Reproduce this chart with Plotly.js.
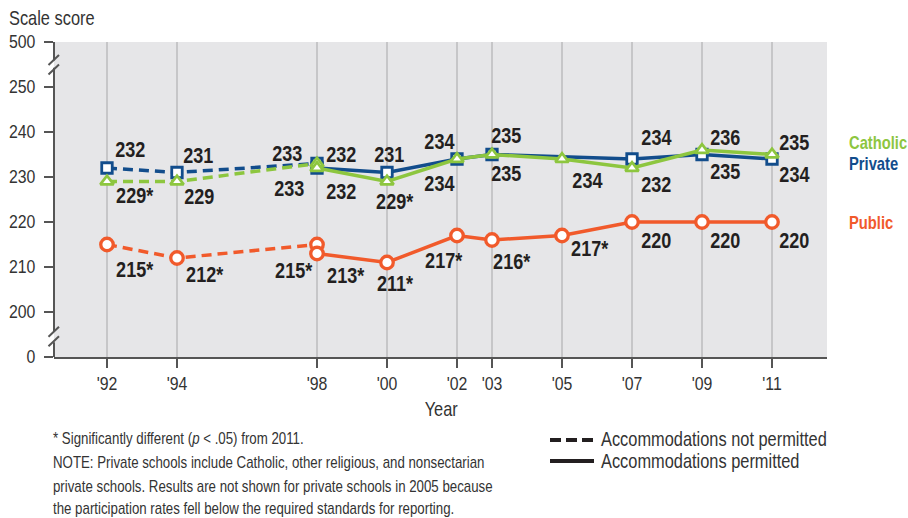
<!DOCTYPE html>
<html>
<head>
<meta charset="utf-8">
<script src="https://cdn.plot.ly/plotly-3.0.1.min.js"></script>
<style>
  html, body { margin: 0; padding: 0; background: #ffffff; }
  #chart { width: 908px; height: 518px; }
</style>
</head>
<body>
<div id="chart"></div>
<script>
// ---------------- DATA ----------------
const yearsNotPermitted = [1992, 1994, 1998];
const yearsPermitted = [1998, 2000, 2002, 2003, 2005, 2007, 2009, 2011];
const tickYears = [1992, 1994, 1998, 2000, 2002, 2003, 2005, 2007, 2009, 2011];
const tickYearLabels = ["'92", "'94", "'98", "'00", "'02", "'03", "'05", "'07", "'09", "'11"];

const publicNotPermitted = [215, 212, 215];
const publicPermitted = [213, 211, 217, 216, 217, 220, 220, 220];
const privateNotPermitted = [232, 231, 233];
const privatePermitted = [232, 231, 234, 235, null, 234, 235, 234];
const catholicNotPermitted = [229, 229, 233];
const catholicPermitted = [232, 229, 234, 235, 234, 232, 236, 235];

const publicNotPermittedSig = [true, true, true];
const publicPermittedSig = [true, true, true, true, true, false, false, false];
const privateNotPermittedSig = [false, false, false];
const privatePermittedSig = [false, false, false, false, false, false, false, false];
const catholicNotPermittedSig = [true, false, false];
const catholicPermittedSig = [false, true, false, false, false, false, false, false];

const scoreTickValues = [0, 200, 210, 220, 230, 240, 250, 500];
const scoreTickLabels = ["0", "200", "210", "220", "230", "240", "250", "500"];

// ---------------- STYLE ----------------
const FONT = "'Liberation Sans', Arial, sans-serif";
const BLUE = '#124d8c';
const GREEN = '#8dc63f';
const ORANGE = '#f15a2b';
const AXIS = '#555555';
const TEXT = '#231f20';

// broken scale: 0 and 500 are drawn one step outside the 200-250 band
function brokenScale(v) {
  if (v === 0) return 190;
  if (v === 500) return 260;
  return v;
}

// label placements (pixel offsets from the point; dy positive = downward)
const placePublicNP = [[28.5, 24.5], [28, 16], [-23, 25.5]];
const placePublicP = [[29, 21.5], [7.5, 21], [-13, 24.5], [19.5, 21.5], [28, 13], [24.5, 18], [23.5, 18], [22.5, 18]];
const placePrivateNP = [[24, -18.3], [22, -17.5], [-30, -10]];
const placePrivateP = [[24, -14], [2, -18.5], [-17.5, -17.3], [14.5, -19.5], null, [24.5, -21.5], [23.5, 17.2], [22.5, 15.2]];
const placeCatholicNP = [[28.5, 13.5], [23, 14.5], [-27.5, 25]];
const placeCatholicP = [[24.5, 23], [7.5, 19.5], [-17.5, 24.3], [14.5, 18.8], [25, 21.8], [24.5, 16], [23.5, -12.5], [22.5, -12]];

// plot-area geometry in pixels
const L = 54, R = 81, T = 42, B = 161, W = 908, H = 518;
const PW = W - L - R, PH = H - T - B;
function px(x) { return (x - L) / PW; }
function py(y) { return (H - B - y) / PH; }

// ---------------- TRACES ----------------
function series(xs, ys, color, symbol, size, lw, dash) {
  return {
    x: xs, y: ys, type: 'scatter', mode: 'lines+markers',
    connectgaps: true, cliponaxis: false, hoverinfo: 'skip', showlegend: false,
    line: { color: color, width: 3.5, dash: dash },
    marker: { symbol: symbol, size: size, color: '#ffffff', line: { color: color, width: lw } }
  };
}

const traces = [
  series(yearsNotPermitted, publicNotPermitted, ORANGE, 'circle', 12.5, 3.3, '10px,6px'),
  series(yearsPermitted, publicPermitted, ORANGE, 'circle', 12.5, 3.3, 'solid'),
  series(yearsNotPermitted, privateNotPermitted, BLUE, 'square', 10.5, 2.8, '10px,6px'),
  series(yearsPermitted, privatePermitted, BLUE, 'square', 10.5, 2.8, 'solid'),
  series(yearsNotPermitted, catholicNotPermitted, GREEN, 'triangle-up', 11.5, 2.8, '10px,6px'),
  series(yearsPermitted, catholicPermitted, GREEN, 'triangle-up', 11.5, 2.8, 'solid')
];

// ---------------- ANNOTATIONS ----------------
const annotations = [];
function addLabels(xs, ys, sig, place) {
  for (let i = 0; i < xs.length; i++) {
    if (ys[i] === null || !place[i]) continue;
    annotations.push({
      x: xs[i], y: ys[i], xref: 'x', yref: 'y',
      text: String(ys[i]) + (sig[i] ? '*' : ''),
      showarrow: false, xanchor: 'center', yanchor: 'middle', align: 'center',
      xshift: place[i][0], yshift: -place[i][1],
      font: { family: FONT, size: 22, color: TEXT, weight: 'bold' }
    });
  }
}
addLabels(yearsNotPermitted, publicNotPermitted, publicNotPermittedSig, placePublicNP);
addLabels(yearsPermitted, publicPermitted, publicPermittedSig, placePublicP);
addLabels(yearsNotPermitted, privateNotPermitted, privateNotPermittedSig, placePrivateNP);
addLabels(yearsPermitted, privatePermitted, privatePermittedSig, placePrivateP);
addLabels(yearsNotPermitted, catholicNotPermitted, catholicNotPermittedSig, placeCatholicNP);
addLabels(yearsPermitted, catholicPermitted, catholicPermittedSig, placeCatholicP);

function textAt(x, y, text, size, color, bold, xanchor) {
  annotations.push({
    x: px(x), y: py(y), xref: 'paper', yref: 'paper', text: text,
    showarrow: false, xanchor: xanchor || 'left', yanchor: 'middle', align: xanchor || 'left',
    borderpad: 0,
    font: { family: FONT, size: size, color: color, weight: bold ? 'bold' : 'normal' }
  });
}
// series names at right
textAt(848, 142.5, 'Catholic', 18, GREEN, true);
textAt(848, 164, 'Private', 18, BLUE, true);
textAt(848, 222.5, 'Public', 18, ORANGE, true);
// axis titles
textAt(8, 18, 'Scale score', 20, '#333333', false);
textAt(441, 409, 'Year', 20, '#333333', false, 'center');
// footnotes
textAt(52, 438, '* Significantly different (<i>p</i> &lt; .05) from 2011.', 16.2, '#333333', false);
textAt(52, 462, 'NOTE: Private schools include Catholic, other religious, and nonsectarian', 16.2, '#333333', false);
textAt(52, 486, 'private schools. Results are not shown for private schools in 2005 because', 16.2, '#333333', false);
textAt(52, 508, 'the participation rates fell below the required standards for reporting.', 16.2, '#333333', false);
// line-style key
textAt(600, 439, 'Accommodations not permitted', 20, '#333333', false);
textAt(600, 461, 'Accommodations permitted', 20, '#333333', false);

// ---------------- SHAPES ----------------
const shapes = [];
function seg(x0, y0, x1, y1, color, width, dash, yref) {
  shapes.push({
    type: 'line', xref: 'paper', yref: yref || 'paper',
    x0: x0, y0: y0, x1: x1, y1: y1, layer: 'above',
    line: { color: color, width: width, dash: dash || 'solid' }
  });
}
// y axis line with two breaks
seg(0, 190, 0, 193.3, AXIS, 2, 'solid', 'y');
seg(0, 195.8, 0, 254.3, AXIS, 2, 'solid', 'y');
seg(0, 255.9, 0, 260, AXIS, 2, 'solid', 'y');
// break marks
seg(px(48.5), 254.9, px(59), 257.1, AXIS, 2, 'solid', 'y');
seg(px(48.5), 252.8, px(59), 255.0, AXIS, 2, 'solid', 'y');
seg(px(48.5), 194.5, px(59), 196.7, AXIS, 2, 'solid', 'y');
seg(px(48.5), 192.4, px(59), 194.6, AXIS, 2, 'solid', 'y');
// key samples
seg(px(550), py(440), px(594), py(440), '#231f20', 4, '11px,5px');
seg(px(550), py(461), px(594), py(461), '#231f20', 4, 'solid');

// ---------------- LAYOUT ----------------
const layout = {
  width: W, height: H,
  margin: { l: L, r: R, t: T, b: B, pad: 0 },
  paper_bgcolor: '#ffffff',
  plot_bgcolor: '#e6e6e8',
  font: { family: FONT, size: 18, color: '#333333' },
  showlegend: false,
  xaxis: {
    range: [1990.486, 2012.571],
    tickvals: tickYears, ticktext: tickYearLabels,
    showgrid: true, gridcolor: '#c6c6c8', gridwidth: 1.5,
    zeroline: false,
    showline: true, linecolor: AXIS, linewidth: 2,
    ticks: 'outside', ticklen: 9, tickwidth: 1.5, tickcolor: AXIS,
    tickfont: { family: FONT, size: 18, color: '#333333' },
    fixedrange: true
  },
  yaxis: {
    range: [190, 260],
    tickvals: scoreTickValues.map(brokenScale), ticktext: scoreTickLabels,
    showgrid: false, zeroline: false, showline: false,
    ticks: 'outside', ticklen: 9, tickwidth: 1.5, tickcolor: AXIS,
    ticklabelstandoff: 5,
    tickfont: { family: FONT, size: 18, color: '#333333' },
    fixedrange: true
  },
  annotations: annotations,
  shapes: shapes
};

// narrow the text horizontally (condensed look), keeping each text's anchor fixed
function condense(nodes, k) {
  nodes.forEach(function (t) {
    let bb;
    try { bb = t.getBBox(); } catch (e) { return; }
    if (!bb || !bb.width) return;
    const anchor = t.getAttribute('text-anchor') || 'start';
    let p = bb.x;
    if (anchor === 'middle') p = bb.x + bb.width / 2;
    else if (anchor === 'end') p = bb.x + bb.width;
    const tr = t.getAttribute('transform') || '';
    t.setAttribute('transform', tr + ' translate(' + p + ',0) scale(' + k + ',1) translate(' + (-p) + ',0)');
  });
}

Plotly.newPlot('chart', traces, layout, { staticPlot: true, displayModeBar: false }).then(function (gd) {
  const root = document.getElementById('chart');
  const tickTexts = Array.from(root.querySelectorAll('.xtick text, .ytick text'));
  const others = Array.from(root.querySelectorAll('text')).filter(function (t) { return tickTexts.indexOf(t) < 0; });
  condense(tickTexts, 0.88);
  condense(others, 0.82);
});
</script>
</body>
</html>
